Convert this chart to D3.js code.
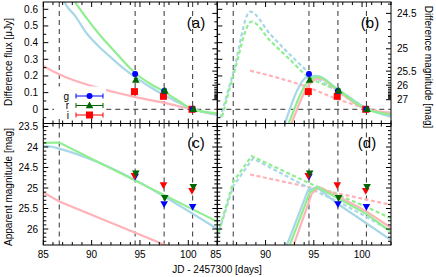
<!DOCTYPE html>
<html>
<head>
<meta charset="utf-8">
<script src="https://cdn.jsdelivr.net/npm/d3@7"></script>
<style>
body { margin: 0; background: #fff; }
text { font-family: "Liberation Sans", Arial, sans-serif; fill: #000; }
</style>
</head>
<body>
<svg id="fig" width="436" height="277"></svg>
<script>
"use strict"

// observation epochs (JD - 2457300)
var epochs = [86.65, 94.5, 97.5, 100.45];

// detections, difference flux [uJy]
var gDays = [94.5, 97.5, 100.45];
var gFlux = [0.212, 0.110, 0.0];
var gErr  = [0.010, 0.010, 0.008];
var rDays = [94.57, 97.57, 100.52];
var rFlux = [0.176, 0.112, 0.0];
var rErr  = [0.010, 0.010, 0.008];
var iDays = [94.43, 97.43, 100.38];
var iFlux = [0.106, 0.078, 0.0];
var iErr  = [0.012, 0.010, 0.008];

// upper limits, apparent magnitude
var gLimMag = [24.72, 25.39, 25.46];
var rLimMag = [24.64, 25.24, 24.97];
var iLimMag = [24.70, 24.93, 25.07];

// model curves, panel (a): [day, flux]
var aBlue  = [[86.6, 0.74], [87.2, 0.643], [88.3, 0.56], [89.5, 0.455], [90.7, 0.38], [91.9, 0.316], [93.2, 0.25], [94.5, 0.194], [96.0, 0.135], [97.5, 0.086], [99.0, 0.04], [100.45, 0.0], [101.7, -0.018], [103, -0.034]];
var aGreen = [[87.6, 0.71], [88.3, 0.643], [89.5, 0.545], [91.0, 0.435], [92.5, 0.34], [94.0, 0.245], [94.5, 0.218], [96.0, 0.155], [97.5, 0.106], [99.0, 0.05], [100.45, 0.0], [101.7, -0.015], [103, -0.024]];
var aPink  = [[85, 0.260], [86.2, 0.222], [87.4, 0.191], [89.1, 0.156], [90.9, 0.126], [92.6, 0.099], [94.3, 0.076], [95.9, 0.057], [97.4, 0.040], [98.9, 0.020], [100.45, 0.0], [101.7, -0.017], [103, -0.034]];

// model curves, panel (b): [day, flux]
var bBlueDash  = [[85.3, -0.054], [86.65, 0.22], [88.4, 0.586], [90.5, 0.45], [92.5, 0.33], [94.4, 0.226], [96.0, 0.16], [97.5, 0.106], [99.0, 0.05], [100.45, 0.006], [103, -0.044]];
var bGreenDash = [[85.5, -0.044], [86.65, 0.20], [88.55, 0.526], [90.5, 0.41], [92.5, 0.30], [94.4, 0.196], [96.0, 0.15], [97.5, 0.116], [99.0, 0.06], [100.45, 0.004], [103, -0.03]];
var bPinkDash  = [[88.4, 0.232], [94.4, 0.132], [97.5, 0.06], [100.45, 0.006], [103, -0.028]];
var bBlue  = [[92.0, -0.086], [94.4, 0.196], [95.3, 0.20], [97.5, 0.12], [100.45, 0.006], [103, -0.044]];
var bGreen = [[92.4, -0.086], [94.6, 0.176], [95.4, 0.194], [97.5, 0.116], [100.45, 0.0], [103, -0.03]];
var bPink  = [[92.7, -0.086], [94.8, 0.166], [95.6, 0.186], [97.5, 0.11], [100.45, 0.0], [103, -0.02]];

// model curves, panel (c): [day, mag]
var cGreen = [[85, 23.90], [86.65, 23.89], [103, 25.82]];
var cBlue  = [[85, 23.98], [86.0, 24.0], [86.65, 24.04], [103, 26.0]];
var cPink  = [[85, 25.11], [86.65, 25.33], [97.6, 26.39], [99, 26.53]];

// model curves, panel (d): [day, mag]
var dGreenDash = [[85.1, 26.1], [86.65, 24.85], [88.55, 24.22], [94.6, 24.89], [97.5, 25.17], [100.45, 25.46], [103, 25.74]];
var dBlueDash  = [[85.0, 26.2], [86.65, 24.95], [88.7, 24.28], [94.6, 25.01], [97.5, 25.33], [100.45, 25.7], [103, 26.05]];
var dPinkDash  = [[88.4, 24.67], [103, 25.41]];
var dBlue  = [[92.2, 26.4], [94.4, 25.05], [95.3, 24.98], [97.5, 25.39], [100.45, 25.86], [103, 26.27]];
var dGreen = [[92.5, 26.4], [94.6, 25.10], [95.4, 24.98], [97.5, 25.25], [100.45, 25.63], [103, 26.07]];
var dPink  = [[92.9, 26.4], [94.8, 25.13], [95.6, 24.98], [97.5, 25.20], [100.45, 25.57], [103, 25.97]];

var xMajor = [85, 90, 95, 100];
var fluxMajor = [0, 0.1, 0.2, 0.3, 0.4, 0.5, 0.6];
var magMajor = [23.5, 24, 24.5, 25, 25.5, 26];
var diffMagLabels = [24.5, 25, 25.5, 26, 27];

var C_BLUE = "#0000ff", C_GREEN = "#006400", C_RED = "#ff0000";
var M_BLUE = "#a8d8e6", M_GREEN = "#90ee90", M_PINK = "#ffb3b8";

var L = 43.3, M = 217.3, R = 391, T = 2, H = 123.5, B = 245;

var svg = d3.select("#fig");
var xl = d3.scaleLinear().domain([85, 103]).range([L, M]);
var xr = d3.scaleLinear().domain([85, 103]).range([M, R]);
var yF = d3.scaleLinear().domain([0, 0.6]).range([109.3, 9.3]);
var yM = d3.scaleLinear().domain([23.5, 26]).range([126.5, 229]);

function fluxOfMag(m) { return Math.pow(10, -0.4 * (m - 23.9)); }

var panels = [
	{id: "a", x: xl, y: yF, x0: L, x1: M, y0: T, y1: H},
	{id: "b", x: xr, y: yF, x0: M, x1: R, y0: T, y1: H},
	{id: "c", x: xl, y: yM, x0: L, x1: M, y0: H, y1: B},
	{id: "d", x: xr, y: yM, x0: M, x1: R, y0: H, y1: B}
];

var defs = svg.append("defs");
panels.forEach(function(p) {
	defs.append("clipPath").attr("id", "clip" + p.id)
		.append("rect")
		.attr("x", p.x0).attr("y", p.y0)
		.attr("width", p.x1 - p.x0).attr("height", p.y1 - p.y0);
	p.g = svg.append("g").attr("clip-path", "url(#clip" + p.id + ")");
});

//
// epoch lines and zero lines
//
panels.forEach(function(p) {
	p.g.selectAll("line.epoch").data(epochs).enter().append("line")
		.attr("x1", function(d) { return p.x(d); })
		.attr("x2", function(d) { return p.x(d); })
		.attr("y1", p.y0).attr("y2", p.y1)
		.attr("stroke", "#333").attr("stroke-width", 1)
		.attr("stroke-dasharray", "5,4");
	if (p.y === yF) {
		p.g.append("line")
			.attr("x1", p.x0).attr("x2", p.x1)
			.attr("y1", yF(0)).attr("y2", yF(0))
			.attr("stroke", "#333").attr("stroke-width", 1)
			.attr("stroke-dasharray", "5,4");
	}
});

//
// model curves
//
function drawCurve(p, pts, color, dashed, smooth) {
	var line = d3.line()
		.x(function(d) { return p.x(d[0]); })
		.y(function(d) { return p.y(d[1]); })
		.curve(smooth ? d3.curveMonotoneX : d3.curveLinear);
	p.g.append("path").datum(pts)
		.attr("d", line)
		.attr("fill", "none")
		.attr("stroke", color)
		.attr("stroke-width", 2.2)
		.attr("stroke-dasharray", dashed ? "4,2.5" : null);
}

drawCurve(panels[0], aPink, M_PINK, false, true);
drawCurve(panels[0], aBlue, M_BLUE, false, true);
drawCurve(panels[0], aGreen, M_GREEN, false, true);

drawCurve(panels[1], bPinkDash, M_PINK, true, true);
drawCurve(panels[1], bBlueDash, M_BLUE, true, true);
drawCurve(panels[1], bGreenDash, M_GREEN, true, true);
drawCurve(panels[1], bBlue, M_BLUE, false, true);
drawCurve(panels[1], bPink, M_PINK, false, true);
drawCurve(panels[1], bGreen, M_GREEN, false, true);

drawCurve(panels[2], cPink, M_PINK, false, false);
drawCurve(panels[2], cBlue, M_BLUE, false, true);
drawCurve(panels[2], cGreen, M_GREEN, false, false);

drawCurve(panels[3], dPinkDash, M_PINK, true, false);
drawCurve(panels[3], dBlueDash, M_BLUE, true, false);
drawCurve(panels[3], dGreenDash, M_GREEN, true, false);
drawCurve(panels[3], dBlue, M_BLUE, false, false);
drawCurve(panels[3], dPink, M_PINK, false, false);
drawCurve(panels[3], dGreen, M_GREEN, false, false);

//
// markers
//
function marker(g, kind, cx, cy, color) {
	if (kind === "circle") {
		g.append("circle").attr("cx", cx).attr("cy", cy).attr("r", 3).attr("fill", color);
	} else if (kind === "square") {
		g.append("rect").attr("x", cx - 3.5).attr("y", cy - 3.5)
			.attr("width", 7).attr("height", 7).attr("fill", color);
	} else if (kind === "up") {
		g.append("path").attr("d", "M" + cx + "," + (cy - 4) + "L" + (cx + 3.8) + "," + (cy + 2.8) +
			"L" + (cx - 3.8) + "," + (cy + 2.8) + "Z").attr("fill", color);
	} else if (kind === "down") {
		g.append("path").attr("d", "M" + cx + "," + (cy + 4) + "L" + (cx + 3.8) + "," + (cy - 2.8) +
			"L" + (cx - 3.8) + "," + (cy - 2.8) + "Z").attr("fill", color);
	}
}

function drawDetections(p, days, flux, err, kind, color) {
	days.forEach(function(d, i) {
		var cx = p.x(d);
		var ya = p.y(flux[i] - err[i]), yb = p.y(flux[i] + err[i]);
		p.g.append("line").attr("x1", cx).attr("x2", cx).attr("y1", ya).attr("y2", yb)
			.attr("stroke", color).attr("stroke-width", 1);
		[ya, yb].forEach(function(yy) {
			p.g.append("line").attr("x1", cx - 2).attr("x2", cx + 2).attr("y1", yy).attr("y2", yy)
				.attr("stroke", color).attr("stroke-width", 1);
		});
		marker(p.g, kind, cx, p.y(flux[i]), color);
	});
}

function drawLimits(p, days, mags, color) {
	days.forEach(function(d, i) {
		marker(p.g, "down", p.x(d), p.y(mags[i]), color);
	});
}

// legend box in (a)
var lg = panels[0].g.append("g");
lg.append("rect").attr("x", 54).attr("y", 86.5).attr("width", 52).attr("height", 32).attr("fill", "#fff");
var legendRows = [["g", "circle", C_BLUE, 96], ["r", "up", C_GREEN, 105.5], ["i", "square", C_RED, 115]];
legendRows.forEach(function(r) {
	lg.append("text").attr("x", 69).attr("y", r[3] + 3.5).attr("text-anchor", "end")
		.style("font-size", "10px").text(r[0]);
	lg.append("line").attr("x1", 76).attr("x2", 103).attr("y1", r[3]).attr("y2", r[3])
		.attr("stroke", r[2]).attr("stroke-width", 1);
	[76, 103].forEach(function(xx) {
		lg.append("line").attr("x1", xx).attr("x2", xx).attr("y1", r[3] - 2.5).attr("y2", r[3] + 2.5)
			.attr("stroke", r[2]).attr("stroke-width", 1);
	});
	marker(lg, r[1], 89.5, r[3], r[2]);
});

[panels[0], panels[1]].forEach(function(p) {
	drawDetections(p, iDays, iFlux, iErr, "square", C_RED);
	drawDetections(p, gDays, gFlux, gErr, "circle", C_BLUE);
	drawDetections(p, rDays, rFlux, rErr, "up", C_GREEN);
});
[panels[2], panels[3]].forEach(function(p) {
	drawLimits(p, gDays, gLimMag, C_BLUE);
	drawLimits(p, iDays, iLimMag, C_RED);
	drawLimits(p, rDays, rLimMag, C_GREEN);
});

//
// frames and ticks
//
var axes = svg.append("g").attr("stroke", "#000").attr("stroke-width", 1);
panels.forEach(function(p) {
	axes.append("rect").attr("x", p.x0).attr("y", p.y0)
		.attr("width", p.x1 - p.x0).attr("height", p.y1 - p.y0)
		.attr("fill", "none");
	var minor = d3.range(85, 104, 1);
	minor.forEach(function(d) {
		var len = xMajor.indexOf(d) >= 0 ? 5 : 3;
		var xx = p.x(d);
		axes.append("line").attr("x1", xx).attr("x2", xx).attr("y1", p.y1).attr("y2", p.y1 - len);
		axes.append("line").attr("x1", xx).attr("x2", xx).attr("y1", p.y0).attr("y2", p.y0 + len);
	});
});

function yTick(x, y, len) {
	axes.append("line").attr("x1", x).attr("x2", x + len).attr("y1", y).attr("y2", y);
}

// flux ticks on left of (a) and left of (b)
d3.range(0, 13).forEach(function(k) {
	var f = k * 0.05;
	var len = (k % 2 === 0) ? 5 : 3;
	yTick(L, yF(f), len);
	yTick(M, yF(f), len);
});
yTick(L, yF(-0.05), 3);
yTick(M, yF(-0.05), 3);

// difference magnitude ticks on right of (a) and right of (b)
d3.range(244, 271, 1).forEach(function(k) {
	var m = k / 10;
	var len = (diffMagLabels.indexOf(m) >= 0) ? 5 : 3;
	var yy = yF(fluxOfMag(m));
	yTick(M, yy, -len);
	yTick(R, yy, -len);
});

// magnitude ticks for (c) and (d)
d3.range(235, 264, 1).forEach(function(k) {
	var m = k / 10;
	var len = (k % 5 === 0) ? 5 : 3;
	var yy = yM(m);
	yTick(L, yy, len);
	yTick(M, yy, len);
	yTick(M, yy, -len);
	yTick(R, yy, -len);
});

//
// labels
//
var fmt = d3.format("");
svg.selectAll("text.xl").data(xMajor).enter().append("text")
	.attr("x", function(d) { return xl(d); }).attr("y", 258)
	.attr("text-anchor", "middle").style("font-size", "10px").text(fmt);
svg.selectAll("text.xr").data(xMajor).enter().append("text")
	.attr("x", function(d) { return xr(d) - (d === 85 ? 1.5 : 0); }).attr("y", 258)
	.attr("text-anchor", "middle").style("font-size", "10px").text(fmt);
svg.selectAll("text.yf").data(fluxMajor).enter().append("text")
	.attr("x", 38).attr("y", function(d) { return yF(d) + 3.5; })
	.attr("text-anchor", "end").style("font-size", "10px").text(fmt);
svg.selectAll("text.ym").data(magMajor).enter().append("text")
	.attr("x", 38).attr("y", function(d) { return yM(d) + 3.5; })
	.attr("text-anchor", "end").style("font-size", "10px").text(fmt);
svg.selectAll("text.y2").data(diffMagLabels).enter().append("text")
	.attr("x", 397).attr("y", function(d) { return yF(fluxOfMag(d)) + 3.5; })
	.attr("text-anchor", "start").style("font-size", "10px").text(fmt);

svg.append("text").attr("x", 217).attr("y", 273).attr("text-anchor", "middle")
	.style("font-size", "10px").text("JD - 2457300 [days]");
svg.append("text").attr("transform", "translate(12,62) rotate(-90)").attr("text-anchor", "middle")
	.style("font-size", "10px").text("Difference flux [\u03bcJy]");
svg.append("text").attr("transform", "translate(12,187) rotate(-90)").attr("text-anchor", "middle")
	.style("font-size", "10px").text("Apparent magnitude [mag]");
svg.append("text").attr("transform", "translate(425,67) rotate(90)").attr("text-anchor", "middle")
	.style("font-size", "10px").text("Difference magnitude [mag]");

var tags = [["(a)", 196, 28], ["(b)", 370, 28], ["(c)", 196, 148], ["(d)", 367, 148]];
tags.forEach(function(t) {
	svg.append("text").attr("x", t[1]).attr("y", t[2]).attr("text-anchor", "middle")
		.style("font-size", "15px").text(t[0]);
});
</script>
</body>
</html>
